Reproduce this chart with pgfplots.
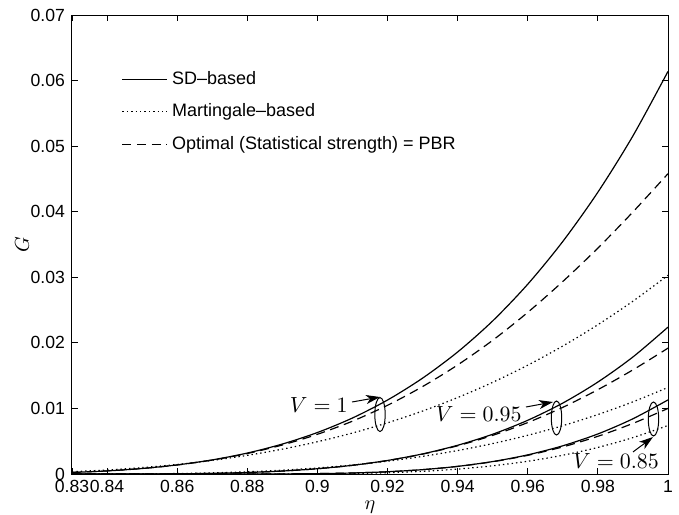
\documentclass[border=0pt]{standalone}
\usepackage{fontspec}
\setmainfont{Liberation Sans}
\usepackage{pgfplots}
\pgfplotsset{compat=1.18}
\usepackage{pgfplotstable}
\usetikzlibrary{arrows.meta}

\pgfplotstableread{
eta s1 d1 o1 s2 d2 o2 s3 d3 o3
0.83 0.000237 0.000237 0.000356 0 0 0 0 0 0
0.84 0.000471 0.000470 0.000615 0.0000003 0.0000003 0.0000027 0 0 0
0.85 0.000839 0.000836 0.000976 0.0000074 0.0000074 0.0000215 0 0 0
0.86 0.001385 0.001374 0.001457 0.0000335 0.0000335 0.0000725 0 0 0
0.87 0.002153 0.002123 0.002075 0.0000986 0.0000986 0.000172 0 0 0
0.88 0.003194 0.003124 0.002846 0.000228 0.000228 0.000336 0.0000014 0.0000014 0
0.89 0.004569 0.004425 0.003788 0.000451 0.000451 0.000580 0.0000137 0.0000137 0.000002
0.90 0.006327 0.006054 0.004918 0.000805 0.000804 0.000922 0.0000557 0.0000557 0.00002
0.91 0.00854 0.008059 0.006253 0.001328 0.001325 0.001376 0.000154 0.000154 0.0000763
0.92 0.01128 0.010477 0.00781 0.002066 0.002055 0.001959 0.000344 0.000344 0.000197
0.93 0.01462 0.013335 0.009605 0.003063 0.003031 0.002687 0.000665 0.000663 0.000411
0.94 0.01861 0.016632 0.011657 0.004383 0.004305 0.003576 0.001166 0.001157 0.000751
0.95 0.02335 0.020394 0.013982 0.006065 0.005893 0.004643 0.001898 0.001871 0.001249
0.96 0.02895 0.024651 0.016598 0.008193 0.007846 0.005903 0.00292 0.002847 0.001942
0.97 0.03547 0.029359 0.01952 0.01082 0.010167 0.007373 0.004304 0.004134 0.002864
0.98 0.04298 0.034455 0.022768 0.014025 0.012864 0.009069 0.006109 0.005749 0.004053
0.99 0.05157 0.039967 0.026357 0.01785 0.015884 0.011006 0.008424 0.007718 0.00555
1.00 0.0614 0.045804 0.030304 0.0224 0.019197 0.013201 0.0113 0.0100 0.0074
}\datatable

\begin{document}
\begin{tikzpicture}
\useasboundingbox (-36pt,-20pt) rectangle (303.5pt,237pt);
\begin{axis}[
  at={(0,0)}, anchor=south west,
  scale only axis, width=298pt, height=229.5pt,
  xmin=0.83, xmax=1, ymin=0, ymax=0.07,
  xtick={0.83,0.84,0.86,0.88,0.9,0.92,0.94,0.96,0.98,1},
  ytick={0,0.01,0.02,0.03,0.04,0.05,0.06,0.07},
  scaled x ticks=false, scaled y ticks=false,
  /pgf/number format/.cd, fixed, precision=2, assume math mode=true,
  /pgfplots/.cd,
  ticklabel style={font=\fontsize{8.8}{10}\selectfont},
  xticklabel style={yshift=0.5pt},
  tick align=inside, major tick length=3pt,
  axis line style={line width=0.5pt},
  every tick/.style={black, line width=0.4pt},
  xlabel={$\eta$}, ylabel={$G$},
  label style={font=\fontsize{10}{12}\selectfont},
  xlabel style={yshift=2.5pt},
  ylabel style={yshift=-6pt},
  legend style={draw=none, fill=none, at={(0.083,0.887)}, anchor=north west,
    font=\fontsize{9}{10.5}\selectfont, row sep=4.2pt, inner sep=0pt},
  legend cell align=left,
  legend image code/.code={\draw[#1] (0pt,0pt) -- (22.5pt,0pt);},
  every axis plot/.append style={line width=0.6pt, black, smooth},
]
\addplot[solid] table[x=eta,y=s1] {\datatable};
\addlegendentry{SD--based}
\addplot[dash pattern=on 0.7pt off 1.5pt] table[x=eta,y=o1] {\datatable};
\addlegendentry{Martingale--based}
\addplot[dash pattern=on 4.5pt off 2.8pt] table[x=eta,y=d1] {\datatable};
\addlegendentry{Optimal (Statistical strength) = PBR}

\addplot[solid, forget plot] table[x=eta,y=s2] {\datatable};
\addplot[dash pattern=on 0.7pt off 1.5pt, forget plot] table[x=eta,y=o2] {\datatable};
\addplot[dash pattern=on 4.5pt off 2.8pt, forget plot] table[x=eta,y=d2] {\datatable};
\addplot[solid, forget plot] table[x=eta,y=s3] {\datatable};
\addplot[dash pattern=on 0.7pt off 1.5pt, forget plot] table[x=eta,y=o3] {\datatable};
\addplot[dash pattern=on 4.5pt off 2.8pt, forget plot] table[x=eta,y=d3] {\datatable};

% annotations
\draw[line width=0.5pt] (axis cs:0.91785,0.00907) ellipse [x radius=2.6pt, y radius=8.5pt];
\draw[line width=0.5pt,-{Stealth[length=7pt,width=4.5pt,inset=2pt]}] (axis cs:0.90987,0.01098) -- (axis cs:0.91785,0.01174);
\node[anchor=east, inner sep=0pt, font=\fontsize{11}{13}\selectfont] at (axis cs:0.90873,0.0105) {$V=1$};

\draw[line width=0.5pt] (axis cs:0.96820,0.00854) ellipse [x radius=2.6pt, y radius=8.5pt];
\draw[line width=0.5pt,-{Stealth[length=7pt,width=4.5pt,inset=2pt]}] (axis cs:0.95950,0.01022) -- (axis cs:0.96720,0.01098);
\node[anchor=east, inner sep=0pt, font=\fontsize{11}{13}\selectfont] at (axis cs:0.95835,0.00915) {$V=0.95$};

\draw[line width=0.5pt] (axis cs:0.99586,0.00839) ellipse [x radius=2.6pt, y radius=8.5pt];
\draw[line width=0.5pt,-{Stealth[length=7pt,width=4.5pt,inset=2pt]}] (axis cs:0.99002,0.00336) -- (axis cs:0.99572,0.00564);
\node[inner sep=0pt, font=\fontsize{11}{13}\selectfont] at (axis cs:0.98517,0.00198) {$V=0.85$};
\end{axis}
\end{tikzpicture}
\end{document}
